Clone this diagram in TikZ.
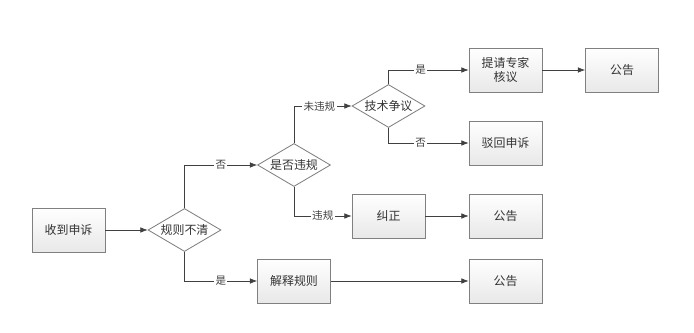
\documentclass[tikz,border=0pt]{standalone}
\usepackage{fontspec}
\newfontfamily\cjk{Noto Sans CJK SC}
\usetikzlibrary{arrows.meta,shapes.geometric,shadows}

\begin{document}
\begin{tikzpicture}[
  font=\cjk\fontsize{8.5}{10.5}\selectfont, text=black!80,
  box/.style={draw=black!50, line width=0.6pt, top color=white, bottom color=black!9,
              minimum width=18.25mm, minimum height=11mm, align=center, inner sep=2pt,
              drop shadow={shadow xshift=0.5pt, shadow yshift=-0.5pt, opacity=0.25}},
  dec/.style={diamond, aspect=1.7, draw=black!50, line width=0.6pt, fill=white,
              minimum width=18.25mm, minimum height=10.75mm, inner sep=0pt},
  ar/.style={-{Latex[length=1.8mm,width=1.4mm]}, draw=black!75, line width=0.5pt},
  lbl/.style={fill=white, inner sep=1pt, text=black!75, font=\cjk\fontsize{7.5}{8.5}\selectfont}]

\useasboundingbox (0,0) rectangle (17.35,8.3);

\def\ca{1.7125}   % receive
\def\cb{4.6125}   % first check
\def\cc{7.35}     % second check
\def\cd{9.7125}   % third check
\def\ce{12.6375}  % outcome column
\def\cf{15.55}    % last notice

% main line
\node[box] (recv)  at (\ca, 2.55)  {收到申诉};
\node[dec] (rule)  at (\cb, 2.55)  {规则不清};
\node[box] (expl)  at (\cc, 1.275) {解释规则};
\node[box] (pubc)  at (\ce, 1.275) {公告};

% violation branch
\node[dec] (viol)  at (\cc, 4.175) {是否违规};
\node[box] (fix)   at (\cd, 2.9)   {纠正};
\node[box] (pubb)  at (\ce, 2.9)   {公告};

% technical dispute branch
\node[dec] (tech)  at (\cd, 5.65)  {技术争议};
\node[box] (exprt) at (\ce, 6.55)  {提请专家\\核议};
\node[box] (puba)  at (\cf, 6.55)  {公告};
\node[box] (rej)   at (\ce, 4.725) {驳回申诉};

\draw[ar] (recv) -- (rule);
\draw[ar] (rule.south) |- node[lbl, pos=0.75] {是} (expl);
\draw[ar] (rule.north) |- node[lbl, pos=0.75] {否} (viol);
\draw[ar] (expl) -- (pubc);
\draw[ar] (viol.south) |- node[lbl, pos=0.75] {违规} (fix);
\draw[ar] (viol.north) |- node[lbl, pos=0.72] {未违规} (tech);
\draw[ar] (fix) -- (pubb);
\draw[ar] (tech.north) |- node[lbl, pos=0.7] {是} (exprt);
\draw[ar] (tech.south) |- node[lbl, pos=0.7] {否} (rej);
\draw[ar] (exprt) -- (puba);
\end{tikzpicture}
\end{document}
